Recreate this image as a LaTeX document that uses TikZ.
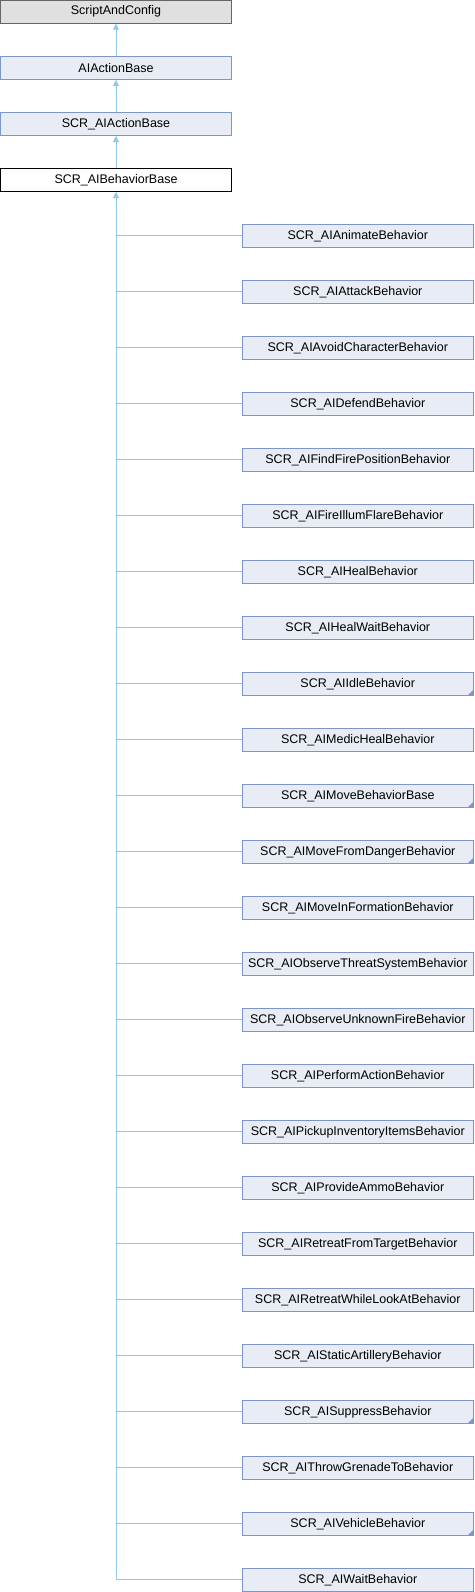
\documentclass[tikz,border=0pt]{standalone}
\usepackage{fontspec}
\setmainfont{Liberation Sans}
\usetikzlibrary{arrows.meta}
\definecolor{nodefill}{RGB}{232,236,245}
\definecolor{nodeborder}{RGB}{124,150,204}
\definecolor{edgecol}{RGB}{143,200,235}
\definecolor{greyfill}{RGB}{224,224,224}
\definecolor{greyborder}{RGB}{102,102,102}
\tikzset{
  cls/.style={draw=nodeborder, fill=nodefill, line width=1pt, minimum width=231pt, minimum height=23pt, inner sep=0pt, font=\fontsize{12.5}{15}\selectfont},
  topcls/.style={cls, draw=greyborder, fill=greyfill},
  curcls/.style={cls, draw=black, fill=white},
  inh/.style={draw=edgecol, line width=1pt, -{Triangle[length=6pt,width=6pt]}},
  conn/.style={draw=edgecol, line width=1pt},
  more/.style={fill=nodeborder}
}
\begin{document}
\begin{tikzpicture}[x=1pt,y=-1pt]
\useasboundingbox (0,0) rectangle (474,1592);
\node[topcls] (sac) at (116,11.75) {ScriptAndConfig};
\node[cls] (aab) at (116,68) {AIActionBase};
\node[cls] (scraab) at (116,124) {SCR\_AIActionBase};
\node[curcls] (bb) at (116,180) {SCR\_AIBehaviorBase};
\draw[inh] (aab.north) -- (sac.south);
\draw[inh] (scraab.north) -- (aab.south);
\draw[inh] (bb.north) -- (scraab.south);
\foreach \name [count=\i from 0] in {
  SCR\_AIAnimateBehavior,
  SCR\_AIAttackBehavior,
  SCR\_AIAvoidCharacterBehavior,
  SCR\_AIDefendBehavior,
  SCR\_AIFindFirePositionBehavior,
  SCR\_AIFireIllumFlareBehavior,
  SCR\_AIHealBehavior,
  SCR\_AIHealWaitBehavior,
  SCR\_AIIdleBehavior,
  SCR\_AIMedicHealBehavior,
  SCR\_AIMoveBehaviorBase,
  SCR\_AIMoveFromDangerBehavior,
  SCR\_AIMoveInFormationBehavior,
  SCR\_AIObserveThreatSystemBehavior,
  SCR\_AIObserveUnknownFireBehavior,
  SCR\_AIPerformActionBehavior,
  SCR\_AIPickupInventoryItemsBehavior,
  SCR\_AIProvideAmmoBehavior,
  SCR\_AIRetreatFromTargetBehavior,
  SCR\_AIRetreatWhileLookAtBehavior,
  SCR\_AIStaticArtilleryBehavior,
  SCR\_AISuppressBehavior,
  SCR\_AIThrowGrenadeToBehavior,
  SCR\_AIVehicleBehavior,
  SCR\_AIWaitBehavior} {
  \node[cls] (c\i) at (357.8,235.8+56*\i) {\name};
  \draw[conn] (c\i.west) -- (c\i.west -| bb.south);
}
\draw[inh] (c24.west -| bb.south) -- (bb.south);
\foreach \i in {8,10,11,21,23} {
  \fill[more] ([xshift=-6pt,yshift=0.5pt]c\i.south east) -- ([xshift=-0.5pt,yshift=0.5pt]c\i.south east) -- ([xshift=-0.5pt,yshift=6pt]c\i.south east) -- cycle;
}
\end{tikzpicture}
\end{document}
